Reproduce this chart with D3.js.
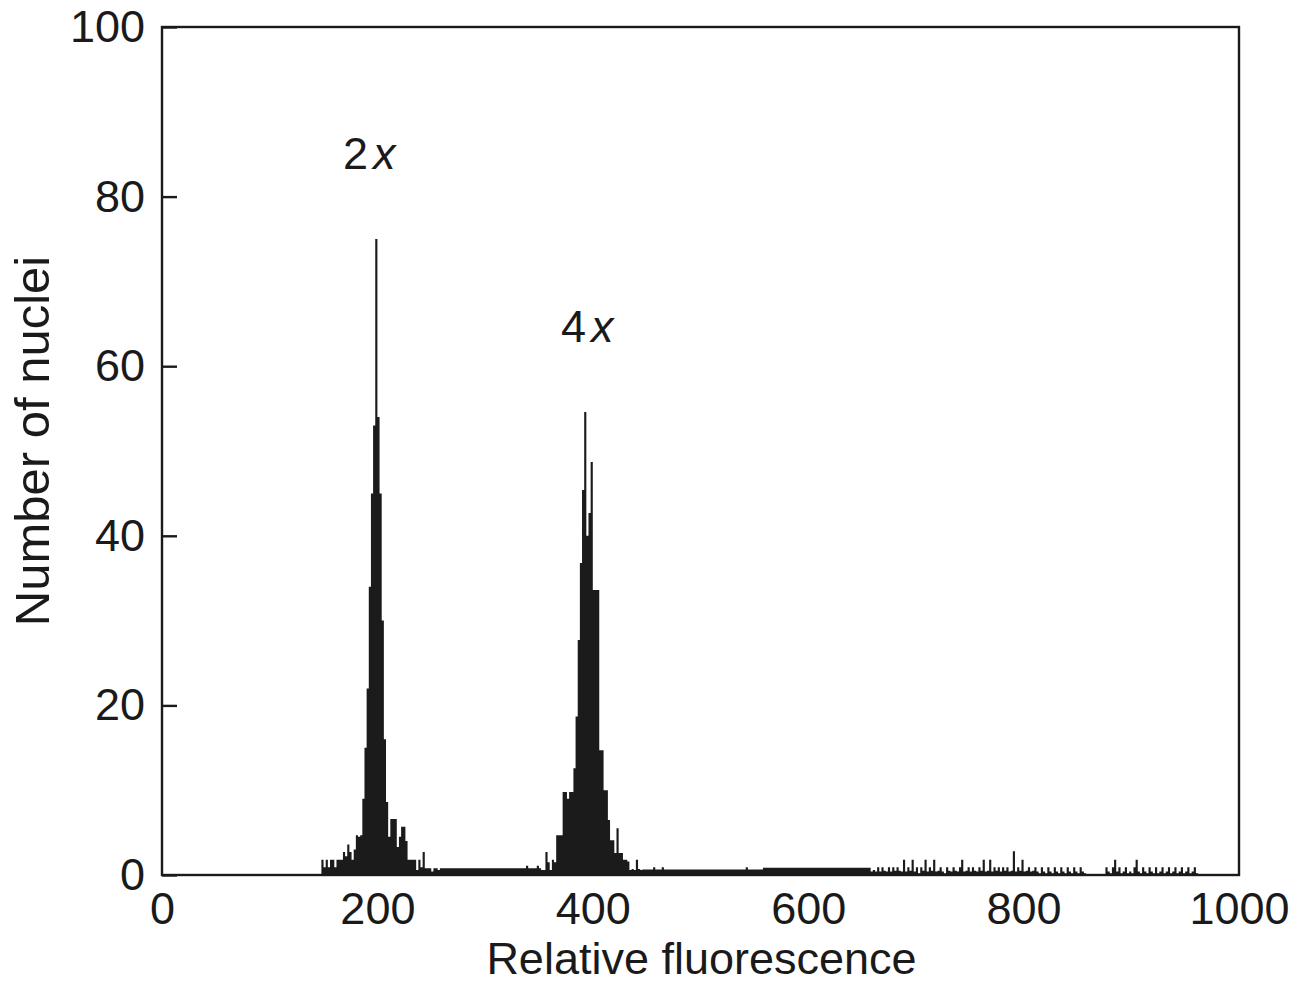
<!DOCTYPE html>
<html>
<head>
<meta charset="utf-8">
<script src="https://cdn.jsdelivr.net/npm/d3@7"></script>
<style>
  html, body { margin: 0; padding: 0; background: #fff; }
  svg { display: block; }
  text { font-family: "Liberation Sans", Arial, Helvetica, sans-serif; fill: #1a1a1a; }
</style>
</head>
<body>
<svg id="chart" width="1293" height="984"></svg>
<script>
// ---- data ----
const binStart = 146;      // fluorescence of first bin
const binWidth = 2;        // fluorescence units per bin
const nucleiCounts = [
  // 146
  0, 1.8, 0.9, 1.8, 0.9, 1.8, 1.8, 0.9, 1.8, 1.8,
  // 166
  1.8, 2.7, 2.2, 3.6, 2.7, 1.8, 3.0, 4.7, 4.5, 4.7,
  // 186
  9, 15, 22, 34, 45, 53, 75, 54, 45, 30,
  // 206
  16, 8.6, 4.5, 6.6, 6.6, 6.6, 3.3, 4.5, 5.7, 5.7,
  // 226
  4.0, 1.8, 1.8, 1.8, 1.8, 0.6, 1.8, 0.9, 2.7, 0.8,
  // 246
  0.8, 0.8, 0.4, 0.8, 0.8, 0.6, 0.8, 0.8, 0.8, 0.8,
  // 266
  0.8, 0.8, 0.8, 0.8, 0.8, 0.8, 0.8, 0.8, 0.8, 0.8,
  // 286
  0.8, 0.8, 0.8, 0.8, 0.8, 0.8, 0.8, 0.8, 0.8, 0.8,
  // 306
  0.8, 0.8, 0.8, 0.8, 0.8, 0.8, 0.8, 0.8, 0.8, 0.8,
  // 326
  0.8, 0.8, 0.8, 0.8, 0.8, 0.8, 1.1, 0.8, 0.8, 0.8,
  // 346
  0.8, 1.1, 0.8, 0.6, 0.6, 2.7, 1.5, 0.6, 1.8, 1.5,
  // 366
  4.7, 4.7, 4.7, 9.8, 9.8, 9.0, 9.8, 9.8, 12.6, 18.7,
  // 386
  27.7, 36.8, 45.4, 54.6, 40, 42.7, 48.7, 33.6, 33.6, 33.6,
  // 406
  14.7, 14.7, 10, 10, 6.5, 4.1, 4.1, 2.6, 5.5, 2.6,
  // 426
  2.6, 1.8, 1.8, 1.6, 0.6, 0.7, 0.6, 1.8, 0.7, 0.6,
  // 446
  0.65, 0.65, 0.65, 0.65, 0.65, 0.9, 0.65, 0.65, 0.65, 0.9,
  // 466
  0.65, 0.65, 0.65, 0.65, 0.65, 0.65, 0.65, 0.65, 0.65, 0.65,
  // 486
  0.65, 0.65, 0.65, 0.65, 0.65, 0.65, 0.65, 0.65, 0.65, 0.65,
  // 506
  0.65, 0.65, 0.65, 0.65, 0.65, 0.65, 0.65, 0.65, 0.65, 0.65,
  // 526
  0.65, 0.65, 0.65, 0.65, 0.65, 0.65, 0.65, 0.65, 0.9, 0.65,
  // 546
  0.65, 0.65, 0.65, 0.65, 0.65, 0.65, 0.85, 0.85, 0.85, 0.85,
  // 566
  0.85, 0.85, 0.85, 0.85, 0.85, 0.85, 0.85, 0.85, 0.85, 0.85,
  // 586
  0.85, 0.85, 0.85, 0.85, 0.85, 0.85, 0.85, 0.85, 0.85, 0.85,
  // 606
  0.85, 0.85, 0.85, 0.85, 0.85, 0.85, 0.85, 0.85, 0.85, 0.85,
  // 626
  0.85, 0.85, 0.85, 0.85, 0.85, 0.85, 0.85, 0.85, 0.85, 0.85,
  // 646
  0.85, 0.85, 0.85, 0.85, 0.85, 0.85, 0.4, 0.6, 0.4, 0.9,
  // 666
  0.4, 0.9, 0.5, 0.4, 0.9, 0.4, 0.9, 0.5, 0.9, 0.5,
  // 686
  0.4, 1.8, 0.4, 0.9, 0.5, 1.8, 0.4, 0.9, 0.2, 0.9,
  // 706
  0.5, 1.8, 0.4, 0.9, 0.5, 1.8, 0.4, 0.5, 0.9, 0.4,
  // 726
  0.2, 0.9, 0.5, 0.4, 0.9, 0.5, 0.4, 0.9, 1.8, 0.4,
  // 746
  0.5, 0.9, 0.4, 0.9, 0.5, 0.4, 0.9, 0.5, 1.8, 0.4,
  // 766
  0.5, 1.8, 0.4, 0.9, 0.5, 0.9, 0.4, 0.9, 0.5, 0.9,
  // 786
  0.4, 0.5, 2.8, 0.4, 0.9, 0.5, 1.8, 0.4, 0.5, 0.9,
  // 806
  0.4, 0.5, 0.9, 0.4, 0.2, 0.9, 0.4, 0.2, 0.9, 0.4,
  // 826
  0.2, 0.9, 0.4, 0.2, 0.9, 0.4, 0.2, 0.9, 0.4, 0.2,
  // 846
  0.9, 0.4, 0.2, 0.9, 0.4, 0.2, 0.0, 0.0, 0.0, 0.0,
  // 866
  0.0, 0.0, 0.0, 0.0, 0.0, 0.9, 0.4, 0.2, 0.9, 1.8,
  // 886
  0.4, 0.9, 0.2, 0.4, 0.9, 0.2, 0.4, 0.2, 0.9, 1.8,
  // 906
  0.4, 0.2, 0.9, 0.4, 0.2, 0.9, 0.4, 0.2, 0.9, 0.2,
  // 926
  0.4, 0.9, 0.2, 0.4, 0.9, 0.2, 0.4, 0.9, 0.2, 0.4,
  // 946
  0.9, 0.2, 0.4, 0.9, 0.2, 0.4, 0.9, 0.2, 0.0, 0.0
];
const xTicks = [0, 200, 400, 600, 800, 1000];
const yTicks = [0, 20, 40, 60, 80, 100];
const peakLabels = [
  { num: "2", sym: "x", fluor: 168, nuclei: 83.3 },
  { num: "4", sym: "x", fluor: 370.5, nuclei: 62.8 }
];
const xTitle = "Relative fluorescence";
const yTitle = "Number of nuclei";

// ---- layout ----
const svg = d3.select("#chart");
const plot = { left: 162, right: 1239, top: 27, bottom: 875 };
const FONT = 45;

const x = d3.scaleLinear().domain([0, 1000]).range([plot.left, plot.right]);
const y = d3.scaleLinear().domain([0, 100]).range([plot.bottom, plot.top]);

const bins = nucleiCounts.map((v, i) => ({ f: binStart + i * binWidth, v }));
bins.push({ f: binStart + nucleiCounts.length * binWidth, v: 0 });

const area = d3.area()
  .x(d => x(d.f))
  .y0(y(0))
  .y1(d => y(d.v))
  .curve(d3.curveStepAfter);

svg.append("path")
  .datum(bins)
  .attr("d", area)
  .attr("fill", "#1b1b1b")
  .attr("stroke", "none");

// frame
svg.append("rect")
  .attr("x", plot.left).attr("y", plot.top)
  .attr("width", plot.right - plot.left)
  .attr("height", plot.bottom - plot.top)
  .attr("fill", "none")
  .attr("stroke", "#1a1a1a")
  .attr("stroke-width", 2.4);

// y axis (ticks pointing inward)
const yAxis = d3.axisLeft(y)
  .tickValues(yTicks)
  .tickFormat(d3.format("d"))
  .tickSizeInner(-15)
  .tickSizeOuter(0)
  .tickPadding(17);
const gy = svg.append("g").attr("transform", `translate(${plot.left},0)`).call(yAxis);
gy.select(".domain").remove();
gy.selectAll(".tick line").attr("stroke", "#1a1a1a").attr("stroke-width", 2.4);
gy.selectAll(".tick text")
  .attr("font-size", FONT)
  .attr("font-family", "Liberation Sans, Arial, sans-serif")
  .attr("fill", "#1a1a1a");

// x axis (labels only)
const xAxis = d3.axisBottom(x)
  .tickValues(xTicks)
  .tickFormat(d3.format("d"))
  .tickSize(0)
  .tickPadding(17);
const gx = svg.append("g").attr("transform", `translate(0,${plot.bottom})`).call(xAxis);
gx.select(".domain").remove();
gx.selectAll(".tick text")
  .attr("font-size", FONT)
  .attr("font-family", "Liberation Sans, Arial, sans-serif")
  .attr("fill", "#1a1a1a");

// axis titles
svg.append("text")
  .attr("x", (plot.left + plot.right) / 2 + 1)
  .attr("y", 974)
  .attr("text-anchor", "middle")
  .attr("font-size", FONT)
  .text(xTitle);

svg.append("text")
  .attr("transform", `translate(49,${(plot.top + plot.bottom) / 2 - 10}) rotate(-90)`)
  .attr("text-anchor", "middle")
  .attr("font-size", 49)
  .text(yTitle);

// peak labels
peakLabels.forEach(p => {
  const t = svg.append("text")
    .attr("x", x(p.fluor))
    .attr("y", y(p.nuclei))
    .attr("font-size", FONT);
  t.append("tspan").text(p.num);
  t.append("tspan").attr("dx", 5).attr("font-style", "italic").text(p.sym);
});
</script>
</body>
</html>
